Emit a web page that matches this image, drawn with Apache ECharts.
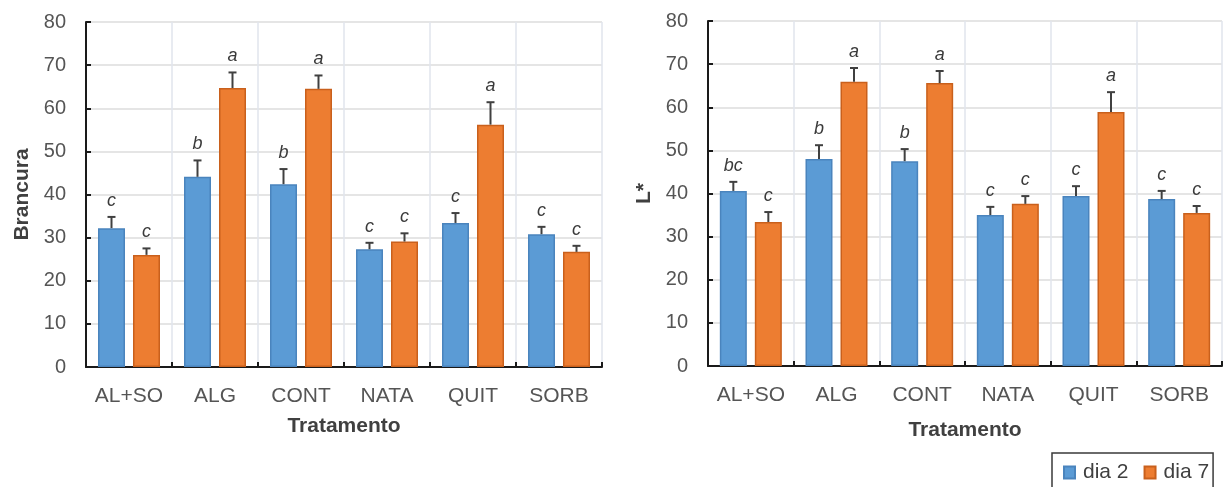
<!DOCTYPE html>
<html>
<head>
<meta charset="utf-8">
<script src="https://cdn.jsdelivr.net/npm/echarts@6/dist/echarts.min.js"></script>
<style>
  html, body { margin: 0; padding: 0; background: #fff; }
  #chart { width: 1225px; height: 487px; }
</style>
</head>
<body>
<div id="chart"></div>
<script>
// Treatments on the x axis
const categories = ['AL+SO', 'ALG', 'CONT', 'NATA', 'QUIT', 'SORB'];
const yTicks = [0, 10, 20, 30, 40, 50, 60, 70, 80];

// Brancura (whiteness) means, standard errors and significance letters
const brancuraDia2 = [32.2, 44.1, 42.4, 27.3, 33.4, 30.8];
const brancuraDia7 = [26.0, 64.7, 64.5, 29.1, 56.2, 26.7];
const brancuraErr2 = [2.6, 3.8, 3.5, 1.5, 2.3, 1.7];
const brancuraErr7 = [1.5, 3.6, 3.1, 1.9, 5.2, 1.4];
const brancuraLetras2 = ['c', 'b', 'b', 'c', 'c', 'c'];
const brancuraLetras7 = ['c', 'a', 'a', 'c', 'a', 'c'];

// L* (lightness) means, standard errors and significance letters
const lDia2 = [40.6, 48.0, 47.5, 35.0, 39.4, 38.7];
const lDia7 = [33.4, 65.9, 65.6, 37.6, 58.9, 35.5];
const lErr2 = [2.1, 3.2, 2.8, 1.9, 2.3, 1.9];
const lErr7 = [2.3, 3.2, 2.8, 1.8, 4.6, 1.6];
const lLetras2 = ['bc', 'b', 'b', 'c', 'c', 'c'];
const lLetras7 = ['c', 'a', 'a', 'c', 'a', 'c'];

const BLUE = '#5b9bd5', BLUE_EDGE = '#4a84bd';
const ORANGE = '#ed7d31', ORANGE_EDGE = '#c9601c';
const FONT = '"Liberation Sans", Arial, sans-serif';
const BAR_W = 27, BAR_GAP = 8;
const HALF = (BAR_W + BAR_GAP) / 2;

function xAxisDef(gridIndex, nameGap) {
  return {
    type: 'category', gridIndex, data: categories,
    name: 'Tratamento', nameLocation: 'middle', nameGap,
    nameTextStyle: { fontFamily: FONT, fontSize: 21, fontWeight: 'bold', color: '#404040' },
    axisLine: { lineStyle: { color: '#1a1a1a', width: 2 } },
    axisTick: { show: true, inside: true, length: 5, lineStyle: { color: '#1a1a1a', width: 2 } },
    axisLabel: { fontFamily: FONT, fontSize: 21, color: '#555555', margin: 19, interval: 0 },
    splitLine: { show: true, lineStyle: { color: '#e1e5ec', width: 1.5 } }
  };
}

function yAxisDef(gridIndex, name, nameGap) {
  return {
    type: 'value', gridIndex, min: yTicks[0], max: yTicks[yTicks.length - 1], interval: 10,
    name, nameLocation: 'middle', nameGap,
    nameTextStyle: { fontFamily: FONT, fontSize: 21, fontWeight: 'bold', color: '#404040' },
    axisLine: { show: true, lineStyle: { color: '#1a1a1a', width: 2 } },
    axisTick: { show: true, inside: true, length: 5, lineStyle: { color: '#1a1a1a', width: 2 } },
    axisLabel: { fontFamily: FONT, fontSize: 20, color: '#555555', margin: 20 },
    splitLine: { show: true, lineStyle: { color: '#dcdcdc', width: 1.5 } }
  };
}

function barSeries(name, idx, values, color, edge) {
  return {
    type: 'bar', name, xAxisIndex: idx, yAxisIndex: idx, data: values,
    barWidth: BAR_W, barGap: (BAR_GAP / BAR_W * 100) + '%',
    itemStyle: { color, borderColor: edge, borderWidth: 1.5 },
    z: 2
  };
}

// Error bar (upper whisker with cap) plus significance letter above it
function errorSeries(idx, values, errs, letters, offset) {
  return {
    type: 'custom', xAxisIndex: idx, yAxisIndex: idx, z: 5,
    data: values.map((v, i) => [i, v, errs[i]]),
    renderItem: function (params, api) {
      const i = api.value(0), v = api.value(1), e = api.value(2);
      const base = api.coord([i, v]);
      const top = api.coord([i, v + e]);
      const x = base[0] + offset;
      const style = { stroke: '#404040', lineWidth: 2 };
      return {
        type: 'group',
        children: [
          { type: 'line', shape: { x1: x, y1: base[1], x2: x, y2: top[1] }, style },
          { type: 'line', shape: { x1: x - 4, y1: top[1], x2: x + 4, y2: top[1] }, style },
          {
            type: 'text',
            style: {
              x: x, y: top[1] - 7, text: letters[params.dataIndex],
              textAlign: 'center', textVerticalAlign: 'bottom',
              fontFamily: FONT, fontSize: 18, fontStyle: 'italic', fill: '#3a3a3a'
            }
          }
        ]
      };
    }
  };
}

const chart = echarts.init(document.getElementById('chart'));
chart.setOption({
  animation: false,
  backgroundColor: '#ffffff',
  grid: [
    { left: 86, right: 623, top: 22, bottom: 120 },
    { left: 708, right: 3, top: 21, bottom: 121 }
  ],
  xAxis: [xAxisDef(0, 49), xAxisDef(1, 54)],
  yAxis: [yAxisDef(0, 'Brancura', 53), yAxisDef(1, 'L*', 53)],
  legend: {
    data: ['dia 2', 'dia 7'],
    left: 1052, top: 453,
    orient: 'horizontal',
    icon: 'rect', itemWidth: 11, itemHeight: 12, itemGap: 15,
    padding: [9, 4, 10, 11],
    borderColor: '#3a3a3a', borderWidth: 1.5,
    textStyle: { fontFamily: FONT, fontSize: 21, color: '#404040', padding: [0, 0, 0, 3] }
  },
  series: [
    barSeries('dia 2', 0, brancuraDia2, BLUE, BLUE_EDGE),
    barSeries('dia 7', 0, brancuraDia7, ORANGE, ORANGE_EDGE),
    barSeries('dia 2', 1, lDia2, BLUE, BLUE_EDGE),
    barSeries('dia 7', 1, lDia7, ORANGE, ORANGE_EDGE),
    errorSeries(0, brancuraDia2, brancuraErr2, brancuraLetras2, -HALF),
    errorSeries(0, brancuraDia7, brancuraErr7, brancuraLetras7, HALF),
    errorSeries(1, lDia2, lErr2, lLetras2, -HALF),
    errorSeries(1, lDia7, lErr7, lLetras7, HALF)
  ]
});
</script>
</body>
</html>
